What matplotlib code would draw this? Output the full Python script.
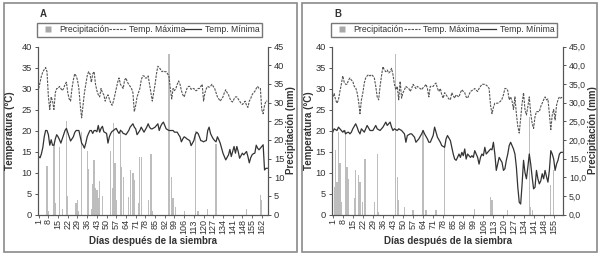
import matplotlib
matplotlib.use("Agg")
import matplotlib.pyplot as plt
from matplotlib.lines import Line2D
from matplotlib.patches import Rectangle
from matplotlib.ticker import FuncFormatter

plt.rcParams['font.family'] = ['Liberation Sans Narrow', 'Liberation Sans', 'DejaVu Sans']

# ---------------- Panel A data ----------------
days_a = list(range(1, 167))
tmax_a = [30, 31.5, 33, 34, 34.5, 35, 34, 28, 25, 28, 27, 25, 29, 30, 30, 30.5, 30, 29.5, 30, 31,
          31.5, 29, 27.5, 27, 30, 32, 33.5, 33, 32, 30, 26, 23, 26, 29, 31, 33, 34, 33.5, 31.5, 33.5,
          34, 31, 29.5, 28.5, 28, 30, 29, 28.5, 27, 28, 28.5, 27.5, 26.5, 26, 27, 28.5, 30, 31.5, 32.5, 31,
          30.5, 30, 32, 32.5, 31.5, 31, 30.5, 30, 29, 24.5, 26, 28, 29, 30, 32, 33, 33, 32.5, 32.5, 33,
          31, 29, 27, 29, 31, 33.5, 35.3, 35, 34.5, 34, 34.2, 34, 34, 33.5, 33, 30, 27.5, 30, 29.5, 30,
          31, 31.8, 31, 29.5, 28.5, 28, 29, 30, 30.5, 30.5, 29.8, 30, 30, 29.5, 29.5, 30, 30, 30.5, 31, 27,
          29, 30, 30.5, 30.3, 30.5, 31, 30.5, 30, 29, 28, 27.5, 27, 27.5, 28, 29, 29.7, 29, 28.5, 27.6, 27,
          26.8, 27.5, 28, 28, 27.5, 27, 26.5, 26.2, 26.5, 27, 26, 25.5, 27, 27.6, 28.5, 29, 29.3, 30, 30.5, 30,
          30, 25, 24, 26, 27, 27]
tmin_a = [13.8, 13.5, 14.5, 16, 18.5, 20, 20, 19, 16.5, 17.8, 16.5, 16.5, 18, 19, 18.5, 17.8, 17, 18, 19, 20,
          20.5, 19.5, 18.5, 17.5, 18, 18.5, 19.5, 20, 20, 20, 18.5, 17, 16.5, 15.8, 17, 18.5, 19.3, 20, 20, 19.3,
          20, 20, 19.7, 21.2, 19.6, 20.5, 21, 19.7, 19.5, 19.3, 17, 18.5, 19.3, 19.8, 20, 20.3, 20.5, 19.8, 19.3, 20,
          19.8, 19.3, 19.2, 19, 19.5, 20, 20.8, 21.2, 21.6, 20.8, 20.4, 19, 19.5, 20, 20.8, 20.2, 19.6, 20.2, 20.8, 21.6,
          20.8, 20.4, 20.4, 20.6, 20.8, 21.2, 21.6, 20, 21, 21.6, 22, 21.2, 20.4, 20.2, 20, 20, 20, 20, 19.6, 19.6,
          19.6, 19, 18.5, 17.3, 18, 18.5, 18.3, 18, 17.8, 17.6, 16.4, 17, 17.6, 19, 19.6, 19.3, 18.5, 17.6, 17.5, 17.3,
          17.5, 17.6, 20, 20.8, 19.3, 18.6, 18, 17.6, 17.3, 18.5, 17.8, 17, 15.8, 14.6, 13.8, 13, 13.6, 14.2, 15.5, 13.8,
          15, 16.2, 14.6, 16.2, 15, 13.4, 14, 14.6, 14.2, 14.6, 15, 13.8, 12.3, 13.5, 14.2, 14.5, 14.6, 16.5, 15.8, 15.4,
          15.8, 16.2, 16.6, 10.6, 11, 11]
rain_days_a = [7, 8, 12, 13, 16, 18, 21, 22, 28, 29, 30, 32, 36, 37, 39, 40, 41, 42, 43, 44, 45, 47,
               53, 54, 55, 56, 57, 60, 61, 62, 66, 67, 69, 70, 73, 74, 75, 80, 82, 83, 95, 97, 98, 100,
               106, 114, 116, 123, 129, 151, 161, 162]
rain_mm_a = [13, 1, 19, 3, 18, 1.6, 25, 5, 3, 4, 1, 22, 17, 12.3, 1.5, 8.3, 14.6, 7, 6.5, 4.3, 9, 5,
             17, 7, 24.4, 13.7, 3.8, 23, 12.7, 10, 4.7, 12, 11, 9.2, 3, 15.4, 15.4, 3.8, 16.3, 1, 43, 10, 4.3, 2,
             1, 22.5, 1, 1.5, 19, 1.5, 5.2, 3.9]

# ---------------- Panel B data ----------------
days_b = list(range(1, 162))
tmax_b = [28, 28.8, 27.3, 26.5, 27.3, 29.3, 31, 33, 31.5, 31, 31, 32, 32.5, 32, 31.7, 30.5, 30.2, 29, 27, 24,
          27.3, 29, 31.3, 32.5, 33, 33.3, 33, 33.3, 33, 32.5, 30.5, 28, 27.3, 30.5, 33, 35.2, 34.4, 34, 34.4, 33.7,
          34, 34.8, 33.3, 31, 29.7, 30.5, 27.3, 31.7, 27.7, 29, 29.7, 30.5, 30.2, 30, 29.3, 30, 31, 30.5, 30, 30.5,
          30.2, 30, 29.7, 30.2, 30.5, 31, 30, 28, 30.5, 30.5, 30.5, 31, 31.3, 30, 29.3, 30, 28.5, 27.7, 29, 28.5,
          28, 27.5, 27.3, 29, 28.3, 27.7, 28.5, 28.2, 28, 29, 29.7, 29.3, 29, 28, 27.7, 28.5, 29.3, 29.5, 29.7, 30,
          29.6, 29.3, 30, 30.5, 31, 31, 31, 30.8, 30.5, 30, 26, 24, 25.5, 26.5, 26.5, 26.5, 26.7, 27, 27.5, 28.5,
          30, 30, 29.5, 27.3, 28, 27, 25, 28, 24, 21, 19.4, 23, 26.5, 29, 25, 23.7, 25.7, 28, 24, 21.7,
          20.5, 23.3, 24.5, 24.5, 24.5, 25.7, 26.5, 27.3, 28, 27.3, 27.5, 24, 20.2, 23.7, 25, 22.5, 26, 27.3, 28, 27.7,
          28]
tmin_b = [19.6, 20.4, 20.2, 20, 20.8, 20.4, 20, 19.6, 20, 19.2, 19.5, 19.6, 19.2, 19.6, 20.4, 21, 21.6, 20.8, 19.8, 19.2,
          20.4, 20, 19.6, 20.4, 21.2, 20.6, 20, 20, 20, 20.6, 21.2, 20.4, 20.2, 20, 20.4, 20.8, 21.4, 22, 21.2, 21.6,
          22, 20.8, 20, 20.4, 20.2, 20, 20.4, 20.2, 20, 19.6, 19.2, 17.2, 18.8, 19, 19.2, 19.2, 18.8, 18.4, 17.2, 17.6,
          18, 18.6, 19.2, 20, 19.2, 18.6, 18, 17.2, 17.2, 18, 18.8, 20.8, 19.6, 18.4, 17.8, 17.2, 16.4, 16.2, 16, 18,
          18.8, 18.2, 17.6, 16, 14.4, 13.2, 12.9, 13.6, 14.4, 13.6, 14.8, 14, 15.6, 13.2, 14.4, 14, 13.6, 14, 13.6, 15.2,
          14.4, 13.6, 12, 13.6, 14.4, 14, 16, 14.4, 14.8, 15.2, 15.6, 15.4, 17.2, 14.4, 10.5, 12, 13.6, 13, 12.4, 10.5,
          10.9, 12.9, 14.4, 16.4, 17.2, 16.4, 15.6, 14.4, 11.3, 6.5, 2.9, 2.5, 7.3, 12.9, 10, 8.5, 11.3, 14.4, 12, 8.9,
          6.1, 6.5, 10.5, 8.5, 7.3, 8, 9.7, 8.5, 10.5, 9, 7.7, 10.5, 15.2, 14.4, 13.2, 10.5, 12, 12.9, 14.4, 14.8,
          14.8]
rain_days_b = [2, 3, 4, 5, 6, 7, 10, 11, 12, 16, 17, 19, 20, 22, 23, 24, 30, 32, 33, 45, 46, 47, 51, 57,
               64, 66, 73, 79, 100, 111, 112, 123, 138, 139, 140, 153, 155]
rain_mm_b = [7.4, 17.2, 8.8, 22, 13.7, 3.4, 22.6, 12.8, 9.6, 4.3, 11.9, 10.5, 8.8, 3.4, 15, 15, 3.4, 16.3, 0.7,
             43, 10, 3.8, 1.9, 1.2, 22.6, 1.2, 1.3, 18.6, 1.6, 4.7, 3.8, 1.2, 26, 2, 1.2, 7.9, 12]

legend_labels = ["Precipitación", "Temp. Máxima", "Temp. Mínima"]
ylab_left = "Temperatura (°C)"
ylab_right = "Precipitación (mm)"
xlab = "Días después de la siembra"

W, H = 602, 256
fig = plt.figure(figsize=(W / 100, H / 100), dpi=100)

TXT = '#333333'
SP = '#555555'


def fx(px):
    return px / W


def fy(py):
    return 1 - py / H


def panel(left_px, right_px, days, tmax, tmin, rdays, rmm, letter, comma,
          lab_left_edge, lab_right_edge):
    n = len(days)
    width_px = right_px - left_px
    ax = fig.add_axes([fx(left_px), fy(214.5), width_px / W, 168 / H])
    ax2 = ax.twinx()
    ax.set_zorder(ax2.get_zorder() + 1)
    ax.patch.set_visible(False)

    ax2.bar(rdays, rmm, width=0.9, color='#bdbdbd', linewidth=0, zorder=1)
    ax.plot(days, tmax, color='#555555', lw=0.8, dashes=(2.2, 1.0))
    ax.plot(days, tmin, color='#333333', lw=0.9)

    ax.set_xlim(0.5, n + 0.5)
    ax.set_ylim(0, 40)
    ax2.set_ylim(0, 45)
    ax.set_yticks(range(0, 41, 5))
    ax2.set_yticks(range(0, 46, 5))
    if comma:
        ax2.yaxis.set_major_formatter(FuncFormatter(lambda v, p: f"{v:.1f}".replace('.', ',')))
    ax.set_xticks(list(range(1, n + 1, 7)))
    ax.set_xticklabels([str(d) for d in range(1, n + 1, 7)], rotation=90, fontsize=6.5, color=TXT)

    for a in (ax, ax2):
        a.spines['top'].set_visible(False)
        for s in ('left', 'right', 'bottom'):
            a.spines[s].set_color(SP)
            a.spines[s].set_linewidth(0.8)
        a.tick_params(axis='y', labelsize=6.7, colors=SP, labelcolor=TXT, length=2.5, width=0.7, pad=1.8)
        a.tick_params(axis='x', labelsize=6.5, colors=SP, labelcolor=TXT, length=2, width=0.6, pad=1.5)
    if comma:
        ax2.tick_params(axis='y', labelsize=6.3)

    ax.set_ylabel(ylab_left, fontsize=7, fontweight='bold', color=TXT)
    ax2.set_ylabel(ylab_right, fontsize=7, fontweight='bold', color=TXT, rotation=90)
    ax.set_xlabel(xlab, fontsize=7, fontweight='bold', color=TXT)
    ax.yaxis.set_label_coords((lab_left_edge - left_px) / width_px, 0.5)
    ax2.yaxis.set_label_coords((lab_right_edge - left_px) / width_px, 0.5)
    ax.xaxis.set_label_coords(0.5, (214.5 - 235.5) / 168)

    handles = [Line2D([0], [0], linestyle='none', marker='s', markersize=4.5,
                      markerfacecolor='#a8a8a8', markeredgecolor='none'),
               Line2D([0], [0], color='#555555', lw=0.8, dashes=(2.2, 1.0)),
               Line2D([0], [0], color='#333333', lw=0.9)]
    fig.legend(handles, legend_labels, ncol=3, mode='expand',
               bbox_to_anchor=(fx(left_px - 1), fy(37), (width_px - 5) / W, 16 / H),
               loc='lower left', fontsize=6.2, frameon=True, fancybox=False, edgecolor='#555555',
               borderpad=0.3, handlelength=1.9, handletextpad=0.4, borderaxespad=0,
               labelcolor=TXT, columnspacing=1.0)
    fig.text(fx(left_px + 2), fy(14), letter, fontsize=7, fontweight='bold', color=TXT,
             ha='left', va='center')
    return ax


panel(38, 268, days_a, tmax_a, tmin_a, rain_days_a, rain_mm_a, 'A', False, 15, 286)
panel(332, 563, days_b, tmax_b, tmin_b, rain_days_b, rain_mm_b, 'B', True, 314, 587.5)

for x0, x1 in ((4, 297), (302, 597)):
    fig.add_artist(Rectangle((fx(x0), fy(252)), (x1 - x0) / W, 249 / H, transform=fig.transFigure,
                             fill=False, edgecolor='#8a8a8a', lw=1.2))

fig.savefig('out.png', dpi=100)
